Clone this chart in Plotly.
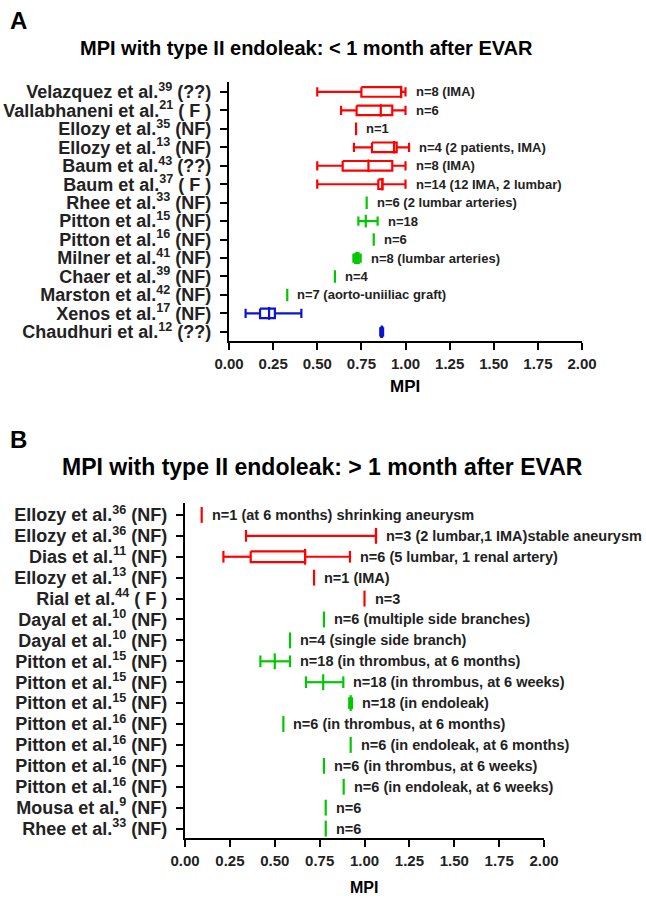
import plotly.graph_objects as go

# ---------------- Panel A data ----------------
A_names = ["Velazquez et al.", "Vallabhaneni et al.", "Ellozy et al.", "Ellozy et al.", "Baum et al.",
           "Baum et al.", "Rhee et al.", "Pitton et al.", "Pitton et al.", "Milner et al.",
           "Chaer et al.", "Marston et al.", "Xenos et al.", "Chaudhuri et al."]
A_refs = ["39", "21", "35", "13", "43", "37", "33", "15", "16", "41", "39", "42", "17", "12"]
A_tags = ["(??)", "( F )", "(NF)", "(NF)", "(??)", "( F )", "(NF)", "(NF)", "(NF)", "(NF)",
          "(NF)", "(NF)", "(NF)", "(??)"]
A_group = [1, 1, 1, 1, 1, 1, 2, 2, 2, 2, 2, 2, 3, 3]
A_lo = [0.50, 0.635, 0.72, 0.708, 0.50, 0.50, 0.78, 0.733, 0.82, 0.705, 0.60, 0.33, 0.094, 0.857]
A_q1 = [0.75, 0.723, 0.72, 0.81, 0.644, 0.846, 0.78, 0.775, 0.82, 0.715, 0.60, 0.33, 0.176, 0.862]
A_med = [0.975, 0.86, 0.72, 0.935, 0.79, 0.869, 0.78, 0.775, 0.82, 0.725, 0.60, 0.33, 0.227, 0.865]
A_q3 = [0.975, 0.925, 0.72, 0.95, 0.925, 0.869, 0.78, 0.775, 0.82, 0.735, 0.60, 0.33, 0.26, 0.868]
A_hi = [1.00, 1.00, 0.72, 1.02, 1.00, 1.00, 0.78, 0.842, 0.82, 0.746, 0.60, 0.33, 0.41, 0.873]
A_notes = ["n=8 (IMA)", "n=6", "n=1", "n=4 (2 patients, IMA)", "n=8 (IMA)", "n=14 (12 IMA, 2 lumbar)",
           "n=6 (2 lumbar arteries)", "n=18", "n=6", "n=8 (lumbar arteries)", "n=4",
           "n=7 (aorto-uniiliac graft)", "", ""]

# ---------------- Panel B data ----------------
B_names = ["Ellozy et al.", "Ellozy et al.", "Dias et al.", "Ellozy et al.", "Rial et al.",
           "Dayal et al.", "Dayal et al.", "Pitton et al.", "Pitton et al.", "Pitton et al.",
           "Pitton et al.", "Pitton et al.", "Pitton et al.", "Pitton et al.", "Mousa et al.", "Rhee et al."]
B_refs = ["36", "36", "11", "13", "44", "10", "10", "15", "15", "15", "16", "16", "16", "16", "9", "33"]
B_tags = ["(NF)", "(NF)", "(NF)", "(NF)", "( F )", "(NF)", "(NF)", "(NF)", "(NF)", "(NF)",
          "(NF)", "(NF)", "(NF)", "(NF)", "(NF)", "(NF)"]
B_group = [1, 1, 1, 1, 1, 2, 2, 2, 2, 2, 2, 2, 2, 2, 2, 2]
B_lo = [0.093, 0.34, 0.214, 0.719, 1.00, 0.774, 0.585, 0.42, 0.674, 0.915, 0.548, 0.923, 0.774, 0.884, 0.784, 0.784]
B_q1 = [0.093, 1.064, 0.366, 0.719, 1.00, 0.774, 0.585, 0.50, 0.77, 0.923, 0.548, 0.923, 0.774, 0.884, 0.784, 0.784]
B_med = [0.093, 1.064, 0.669, 0.719, 1.00, 0.774, 0.585, 0.50, 0.77, 0.923, 0.548, 0.923, 0.774, 0.884, 0.784, 0.784]
B_q3 = [0.093, 1.064, 0.669, 0.719, 1.00, 0.774, 0.585, 0.50, 0.77, 0.923, 0.548, 0.923, 0.774, 0.884, 0.784, 0.784]
B_hi = [0.093, 1.064, 0.919, 0.719, 1.00, 0.774, 0.585, 0.585, 0.882, 0.93, 0.548, 0.923, 0.774, 0.884, 0.784, 0.784]
B_notes = ["n=1 (at 6 months) shrinking aneurysm", "n=3 (2 lumbar,1 IMA)stable aneurysm",
           "n=6 (5 lumbar, 1 renal artery)", "n=1 (IMA)", "n=3", "n=6 (multiple side branches)",
           "n=4 (single side branch)", "n=18 (in thrombus, at 6 months)", "n=18 (in thrombus, at 6 weeks)",
           "n=18 (in endoleak)", "n=6 (in thrombus, at 6 months)", "n=6 (in endoleak, at 6 months)",
           "n=6 (in thrombus, at 6 weeks)", "n=6 (in endoleak, at 6 weeks)", "n=6", "n=6"]

X_TICKS = [0, 0.25, 0.5, 0.75, 1.0, 1.25, 1.5, 1.75, 2.0]
X_TICKTEXT = ["0.00", "0.25", "0.50", "0.75", "1.00", "1.25", "1.50", "1.75", "2.00"]

COLORS = {1: "#ff0000", 2: "#00c800", 3: "#0a14d2"}
FONT = "Liberation Sans, Arial, Helvetica, sans-serif"
W, H = 646, 900


def px(p):
    return p / W


def py(p):
    return 1 - p / H


def build(lo, q1, med, q3, hi, group, hcap, hbox, hmed):
    out = {}
    for i in range(len(lo)):
        xs, ys = out.setdefault(group[i], ([], []))

        def seg(x0, y0, x1, y1):
            xs.extend([x0, x1, None])
            ys.extend([y0, y1, None])

        r = i
        if hi[i] - lo[i] < 1e-9:
            seg(med[i], r - hmed, med[i], r + hmed)
            continue
        if q1[i] > lo[i]:
            seg(lo[i], r, q1[i], r)
        if hi[i] > q3[i]:
            seg(q3[i], r, hi[i], r)
        seg(lo[i], r - hcap, lo[i], r + hcap)
        seg(hi[i], r - hcap, hi[i], r + hcap)
        if q3[i] > q1[i]:
            xs.extend([q1[i], q3[i], q3[i], q1[i], q1[i], None])
            ys.extend([r - hbox, r - hbox, r + hbox, r + hbox, r - hbox, None])
        seg(med[i], r - hmed, med[i], r + hmed)
    return out


fig = go.Figure()

for (lo, q1, med, q3, hi, grp, xa, ya, hc, hb, hm) in [
    (A_lo, A_q1, A_med, A_q3, A_hi, A_group, "x", "y", 0.25, 0.26, 0.34),
    (B_lo, B_q1, B_med, B_q3, B_hi, B_group, "x2", "y2", 0.28, 0.26, 0.38),
]:
    segs = build(lo, q1, med, q3, hi, grp, hc, hb, hm)
    for g, (xs, ys) in segs.items():
        fig.add_trace(go.Scatter(x=xs, y=ys, xaxis=xa, yaxis=ya, mode="lines",
                                 line=dict(color=COLORS[g], width=2.2),
                                 hoverinfo="skip", showlegend=False, connectgaps=False))

annotations = []
for notes, hi, xr, yr, sz in [(A_notes, A_hi, "x", "y", 13), (B_notes, B_hi, "x2", "y2", 14.5)]:
    for i, t in enumerate(notes):
        if not t:
            continue
        annotations.append(dict(x=hi[i], y=i, xref=xr, yref=yr, text=t, showarrow=False,
                                xanchor="left", yanchor="middle", xshift=8,
                                font=dict(family=FONT, size=sz, color="#222222", weight="bold")))

# panel letters, titles, axis titles
annotations += [
    dict(x=px(8), y=py(21), xref="paper", yref="paper", text="A", showarrow=False,
         xanchor="left", yanchor="middle", font=dict(family=FONT, size=24, color="black", weight="bold")),
    dict(x=px(306), y=py(48), xref="paper", yref="paper", text="MPI with type II endoleak: < 1 month after EVAR",
         showarrow=False, xanchor="center", yanchor="middle",
         font=dict(family=FONT, size=20, color="black", weight="bold")),
    dict(x=px(8), y=py(439), xref="paper", yref="paper", text="B", showarrow=False,
         xanchor="left", yanchor="middle", font=dict(family=FONT, size=24, color="black", weight="bold")),
    dict(x=px(322), y=py(467), xref="paper", yref="paper", text="MPI with type II endoleak: > 1 month after EVAR",
         showarrow=False, xanchor="center", yanchor="middle",
         font=dict(family=FONT, size=23, color="black", weight="bold")),
    dict(x=px(405), y=py(386), xref="paper", yref="paper", text="MPI", showarrow=False,
         xanchor="center", yanchor="middle", font=dict(family=FONT, size=17, color="black", weight="bold")),
    dict(x=px(364), y=py(887), xref="paper", yref="paper", text="MPI", showarrow=False,
         xanchor="center", yanchor="middle", font=dict(family=FONT, size=16, color="black", weight="bold")),
]


def ylabels(names, refs, tags):
    return [f"{n}<sup>{r}</sup> {t}" for n, r, t in zip(names, refs, tags)]


xcommon = dict(range=[0, 2], tickvals=X_TICKS, ticktext=X_TICKTEXT, showline=True, linewidth=2.2,
               linecolor="black", ticks="outside", ticklen=7, tickwidth=2.2, tickcolor="black",
               showgrid=False, zeroline=False, fixedrange=True, ticklabelstandoff=1, automargin=False,
               tickfont=dict(family=FONT, size=15, color="#222222", weight="bold"))
ycommon = dict(showline=True, linewidth=2.2, linecolor="black", ticks="outside", ticklen=7,
               tickwidth=2.2, tickcolor="black", showgrid=False, zeroline=False, fixedrange=True,
               ticklabelstandoff=5, automargin=False,
               tickfont=dict(family=FONT, size=18, color="#222222", weight="bold"))

fig.update_layout(
    template="none",
    width=W, height=H, margin=dict(l=0, r=0, t=0, b=0, pad=0, autoexpand=False),
    paper_bgcolor="white", plot_bgcolor="white", showlegend=False,
    xaxis=dict(domain=[px(229), px(582)], anchor="y", **xcommon),
    yaxis=dict(domain=[py(340.7), py(82)], anchor="x", range=[13.48, -0.54],
               tickvals=list(range(len(A_names))), ticktext=ylabels(A_names, A_refs, A_tags), **ycommon),
    xaxis2=dict(domain=[px(185), px(544)], anchor="y2", **xcommon),
    yaxis2=dict(domain=[py(838), py(503)], anchor="x2", range=[15.45, -0.57],
                tickvals=list(range(len(B_names))), ticktext=ylabels(B_names, B_refs, B_tags), **ycommon),
    annotations=annotations,
)

fig.write_html("out.html", config={"displayModeBar": False},
               post_script="document.body.style.margin='0';document.body.style.overflow='hidden';")
